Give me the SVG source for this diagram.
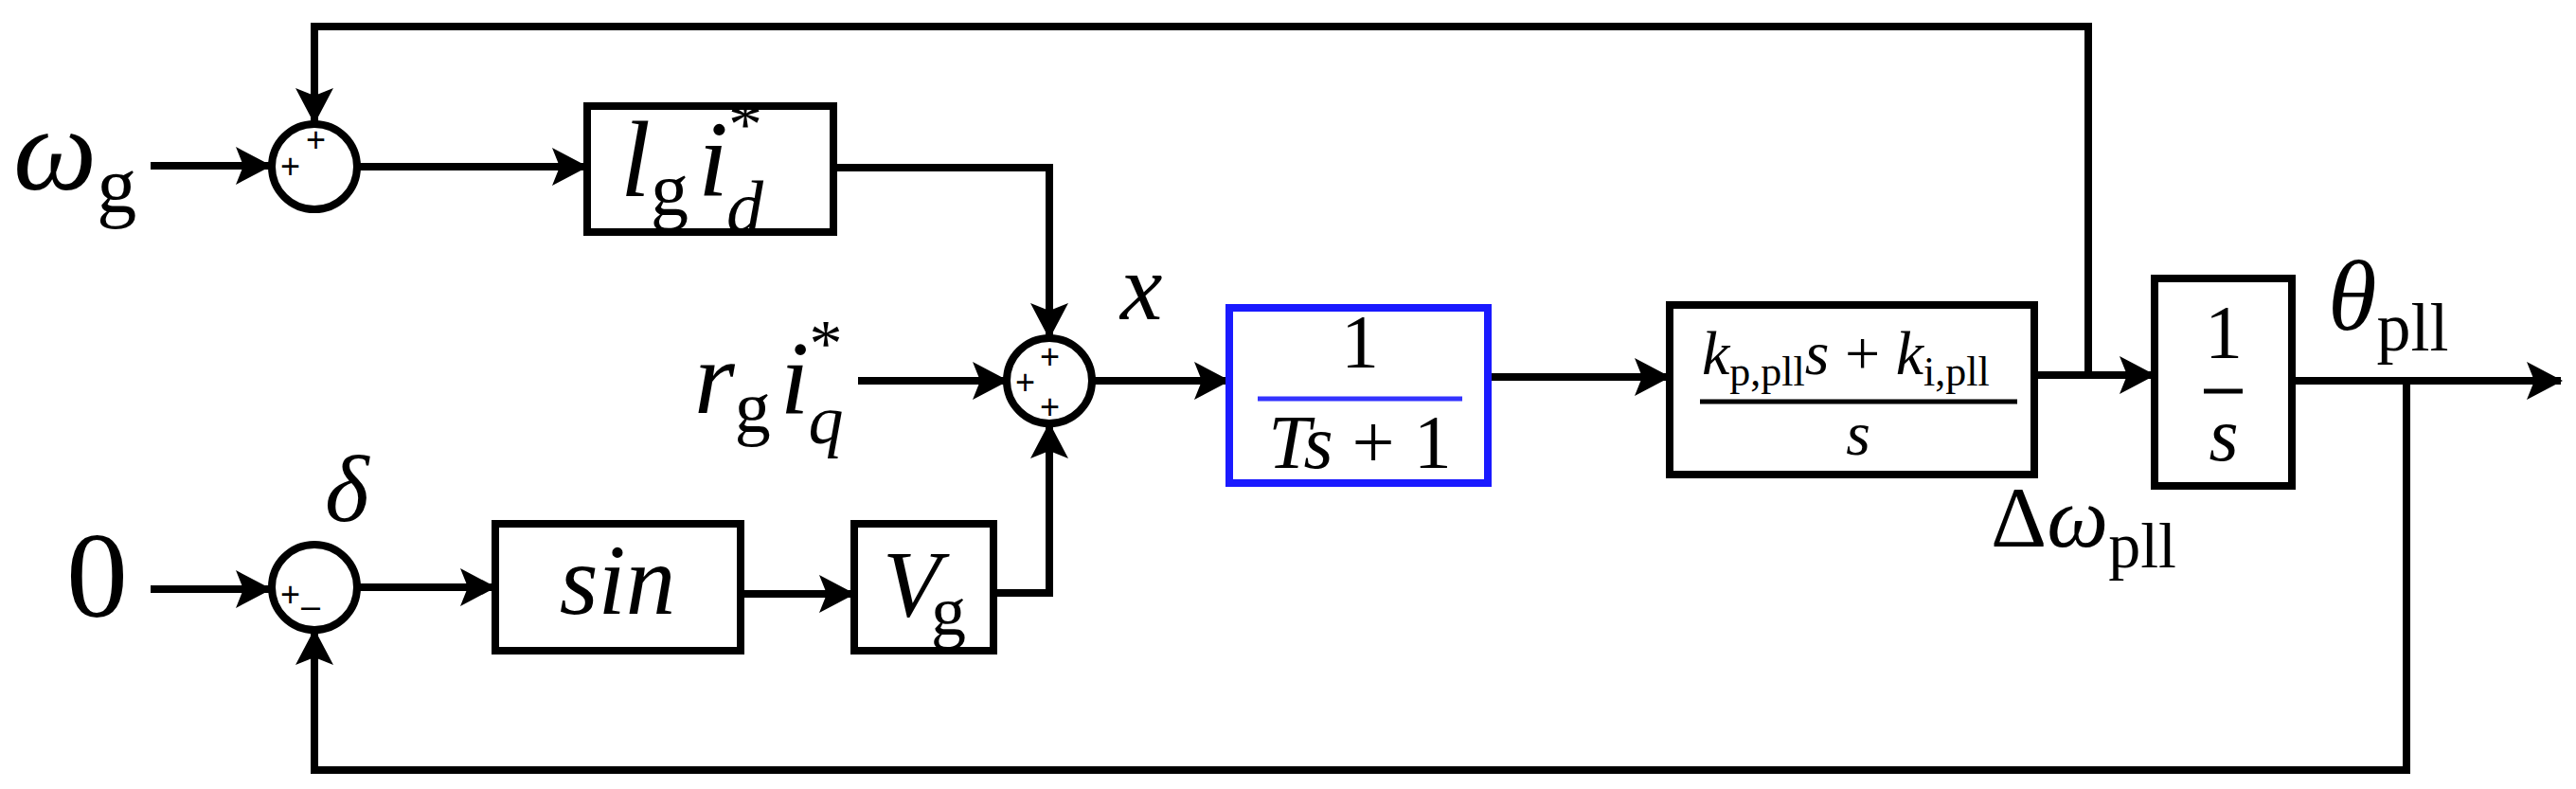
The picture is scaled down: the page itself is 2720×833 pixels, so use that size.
<svg xmlns="http://www.w3.org/2000/svg" width="2720" height="833" viewBox="0 0 2720 833">
<style>
.b{fill:none;stroke:#000;stroke-width:8}
.l{fill:none;stroke:#000;stroke-width:8}
.t{font-family:"Liberation Serif",serif;font-style:italic;fill:#000}
.r{font-family:"Liberation Serif",serif;font-style:normal}
.p{font-family:"Liberation Sans",sans-serif;font-size:36px;fill:#000}
</style>
<defs>
<marker id="a" markerUnits="userSpaceOnUse" markerWidth="38" markerHeight="40" refX="36" refY="20" orient="auto"><path d="M0,0 L38,20 L0,40 L8,20 Z" fill="#000"/></marker>
</defs>
<rect width="2720" height="833" fill="#fff"/>
<g id="connectors">
<path class="l" d="M159,175 H285" marker-end="url(#a)"/>
<path class="l" d="M377,176 H619" marker-end="url(#a)"/>
<path class="l" d="M880,177 H1108 V356" marker-end="url(#a)"/>
<path class="l" d="M906,402 H1063" marker-end="url(#a)"/>
<path class="l" d="M159,622 H285" marker-end="url(#a)"/>
<path class="l" d="M377,620 H522" marker-end="url(#a)"/>
<path class="l" d="M782,627 H901" marker-end="url(#a)"/>
<path class="l" d="M1049,626 H1108 V448" marker-end="url(#a)"/>
<path class="l" d="M1153,402 H1297" marker-end="url(#a)"/>
<path class="l" d="M1571,398 H1762" marker-end="url(#a)"/>
<path class="l" d="M2148,396 H2274" marker-end="url(#a)"/>
<path class="l" d="M2205,396 V28 H332 V129" marker-end="url(#a)"/>
<path class="l" d="M2420,402 H2704" marker-end="url(#a)"/>
<path class="l" d="M2541,402 V813 H332 V666" marker-end="url(#a)"/>
</g>
<g id="in_wg"><text class="t" x="14" y="200" font-size="125">ω<tspan class="r" font-size="84" dy="24">g</tspan></text></g>
<g id="sum1"><circle class="b" cx="332" cy="176" r="45"/><text class="p" x="323" y="160">+</text><text class="p" x="296" y="188">+</text></g>
<g id="box_lg"><rect class="b" x="620" y="112" width="260" height="133"/><text class="t" x="655" y="207" font-size="115">l<tspan class="r" font-size="80" dy="20">g</tspan><tspan dx="10" dy="-20">i</tspan><tspan class="r" font-size="72" dx="0" dy="-52">*</tspan><tspan font-size="78" dx="-38" dy="90">d</tspan></text></g>
<g id="in_rg"><text class="t" x="733" y="436" font-size="110">r<tspan class="r" font-size="76" dy="20">g</tspan><tspan dx="10" dy="-20">i</tspan><tspan class="r" font-size="70" dy="-50">*</tspan><tspan font-size="74" dx="-36" dy="82">q</tspan></text></g>
<g id="sum2"><circle class="b" cx="1108" cy="402" r="45"/><text class="p" x="1098" y="389">+</text><text class="p" x="1072" y="416">+</text><text class="p" x="1098" y="442">+</text></g>
<g id="lbl_x"><text class="t" x="1183" y="337" font-size="100">x</text></g>
<g id="in_0"><text class="t r" x="70" y="651" font-size="130">0</text></g>
<g id="sum3"><circle class="b" cx="332" cy="620" r="45"/><text class="p" x="296" y="640">+</text><text class="p" x="318" y="652">–</text></g>
<g id="lbl_delta"><text class="t" x="343" y="550" font-size="100">δ</text></g>
<g id="box_sin"><rect class="b" x="523" y="553" width="259" height="134"/><text class="t" x="652" y="648" font-size="105" text-anchor="middle">sin</text></g>
<g id="box_vg"><rect class="b" x="902" y="553" width="147" height="134"/><text class="t" x="932" y="650" font-size="100">V<tspan class="r" font-size="74" dx="-10" dy="20">g</tspan></text></g>
<g id="box_lpf"><rect x="1298" y="325" width="273" height="185" fill="none" stroke="#1a1aff" stroke-width="8"/><text class="t r" x="1436" y="388" font-size="80" fill="#3333ff" text-anchor="middle">1</text><line x1="1328" y1="421" x2="1544" y2="421" stroke="#3333ff" stroke-width="5"/><text class="t" x="1436" y="494" font-size="80" fill="#3333ff" text-anchor="middle">Ts <tspan class="r">+ 1</tspan></text></g>
<g id="box_pi"><rect class="b" x="1763" y="322" width="385" height="179"/><text class="t" x="1797" y="395" font-size="66">k<tspan class="r" font-size="44" dy="12">p,pll</tspan><tspan dy="-12">s </tspan><tspan class="r">+ </tspan>k<tspan class="r" font-size="44" dy="12">i,pll</tspan></text><line x1="1795" y1="424" x2="2130" y2="424" stroke="#000" stroke-width="5"/><text class="t" x="1962" y="480" font-size="66" text-anchor="middle">s</text></g>
<g id="box_int"><rect class="b" x="2275" y="294" width="145" height="219"/><text class="t r" x="2348" y="378" font-size="80" text-anchor="middle">1</text><line x1="2327" y1="413" x2="2368" y2="413" stroke="#000" stroke-width="5"/><text class="t" x="2348" y="486" font-size="80" text-anchor="middle">s</text></g>
<g id="lbl_theta"><text class="t" x="2458" y="348" font-size="105">θ<tspan class="r" font-size="72" dy="22">pll</tspan></text></g>
<g id="lbl_dw"><text class="t" x="2102" y="577" font-size="92"><tspan class="r">Δ</tspan>ω<tspan class="r" font-size="68" dy="22">pll</tspan></text></g>
</svg>
